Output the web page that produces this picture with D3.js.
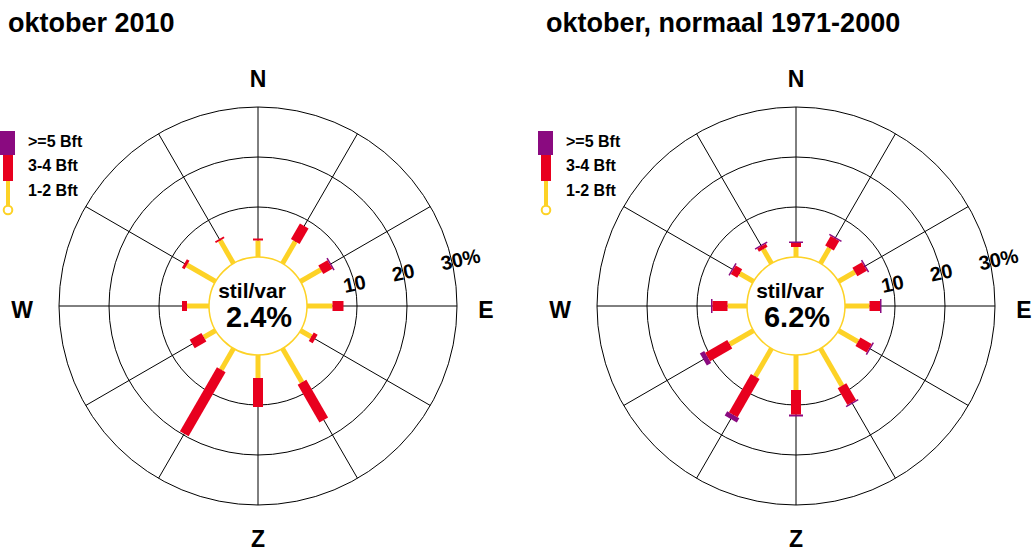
<!DOCTYPE html>
<html>
<head>
<meta charset="utf-8">
<script src="https://cdn.jsdelivr.net/npm/d3@7"></script>
<style>
  html, body { margin: 0; padding: 0; background: #fff; }
  svg text { font-family: "Liberation Sans", Arial, Helvetica, sans-serif; font-weight: bold; }
</style>
</head>
<body>
<svg id="chart" width="1033" height="551"></svg>
<script>
"use strict";

// richtingen, elke 30 graden vanaf noord
var directions = ["N", "NNO", "ONO", "O", "OZO", "ZZO", "Z", "ZZW", "WZW", "W", "WNW", "NNW"];
var compass = [["N", 0, 229], ["E", 90, 228], ["Z", 180, 231], ["W", 270, 236]];
var rings = [10, 20, 30];
var legendLabels = [">=5 Bft", "3-4 Bft", "1-2 Bft"];

// oktober 2010 (% per richting)
var okt2010_12 = [3.3, 5.1, 4.7, 5.1, 2.5, 7.8, 4.6, 4.9, 2.7, 4.4, 6.6, 5.3];
var okt2010_34 = [0.4, 3.6, 2.1, 2.2, 0.9, 8.7, 5.8, 14.8, 2.7, 1.0, 0.6, 0.4];
var okt2010_5  = [0, 0, 0.2, 0, 0, 0, 0, 0, 0, 0, 0, 0];
var okt2010_stil = "2.4%";

// oktober, normaal 1971-2000
var norm_12 = [2.0, 3.6, 3.8, 4.9, 4.5, 8.6, 7.0, 6.5, 5.5, 3.9, 3.2, 3.3];
var norm_34 = [0.8, 2.2, 2.2, 2.1, 2.6, 3.9, 4.9, 8.8, 5.1, 3.0, 1.5, 0.7];
var norm_5  = [0.3, 0.3, 0.3, 0.3, 0.3, 0.3, 0.4, 1.0, 1.0, 0.3, 0.3, 0.3];
var norm_stil = "6.2%";

var colors = { b5: "#8a0a80", b34: "#e8001e", b12: "#fdd226" };

var svg = d3.select("#chart");
var r = d3.scaleLinear().domain([0, 30]).range([49, 199]);
var angle = d3.scalePoint().domain(directions).range([0, 330]);

var pt = (deg, rad) => {
    var a = deg * Math.PI / 180;
    return [rad * Math.sin(a), -rad * Math.cos(a)];
};

var drawRose = (g, title, v12, v34, v5, stil) => {
    g.append("text").attr("x", 8).attr("y", 32).attr("font-size", 27).text(title);

    // legenda
    var lg = g.append("g");
    lg.append("rect").attr("x", 0).attr("y", 131).attr("width", 15).attr("height", 24).attr("fill", colors.b5);
    lg.append("rect").attr("x", 3).attr("y", 155).attr("width", 10).attr("height", 26).attr("fill", colors.b34);
    lg.append("line").attr("x1", 8).attr("x2", 8).attr("y1", 181).attr("y2", 206)
        .attr("stroke", colors.b12).attr("stroke-width", 4);
    lg.append("circle").attr("cx", 8).attr("cy", 210).attr("r", 4.3)
        .attr("fill", "#fff").attr("stroke", colors.b12).attr("stroke-width", 2);
    lg.selectAll("text.leg").data(legendLabels).enter().append("text")
        .attr("class", "leg").attr("x", 28).attr("y", (d, i) => 147 + i * 24.3)
        .attr("font-size", 16).text(d => d);

    var c = g.append("g").attr("transform", "translate(258,306)");

    c.selectAll("circle.ring").data(rings).enter().append("circle")
        .attr("class", "ring").attr("r", d => r(d))
        .attr("fill", "none").attr("stroke", "#000").attr("stroke-width", 1);

    c.selectAll("line.spoke").data(directions).enter().append("line")
        .attr("class", "spoke")
        .attr("x1", d => pt(angle(d), r(0))[0]).attr("y1", d => pt(angle(d), r(0))[1])
        .attr("x2", d => pt(angle(d), r(30))[0]).attr("y2", d => pt(angle(d), r(30))[1])
        .attr("stroke", "#000").attr("stroke-width", 1);

    var rows = directions.map((d, i) => ({
        dir: d, a: v12[i], b: v12[i] + v34[i], c: v12[i] + v34[i] + v5[i], p: v5[i]
    }));

    var bar = (cls, from, to, w, col) => {
        c.selectAll("line." + cls).data(rows.filter(d => to(d) > from(d))).enter().append("line")
            .attr("class", cls)
            .attr("x1", d => pt(angle(d.dir), r(from(d)))[0])
            .attr("y1", d => pt(angle(d.dir), r(from(d)))[1])
            .attr("x2", d => pt(angle(d.dir), Math.max(r(to(d)), r(from(d)) + 1.5))[0])
            .attr("y2", d => pt(angle(d.dir), Math.max(r(to(d)), r(from(d)) + 1.5))[1])
            .attr("stroke", col).attr("stroke-width", w);
    };
    bar("b12", d => 0, d => d.a, 5, colors.b12);
    bar("b5", d => d.b, d => d.c, 14, colors.b5);
    bar("b34", d => d.a, d => d.b, 10, colors.b34);

    c.append("circle").attr("r", r(0)).attr("fill", "#fff")
        .attr("stroke", colors.b12).attr("stroke-width", 1.5);
    c.append("text").attr("x", -6).attr("y", -8).attr("text-anchor", "middle")
        .attr("font-size", 21).text("stil/var");
    c.append("text").attr("x", 1).attr("y", 21).attr("text-anchor", "middle")
        .attr("font-size", 29).text(stil);

    // schaal labels
    var tl = c.selectAll("g.tick").data(rings).enter().append("g").attr("class", "tick")
        .attr("transform", d => {
            var p = pt(77, r(d));
            return "translate(" + p[0] + "," + p[1] + ") rotate(-12)";
        });
    tl.append("text").attr("text-anchor", "middle").attr("y", 7).attr("font-size", 20).text(d => d);
    tl.filter(d => d === 30).append("text").attr("x", 11).attr("y", 7).attr("font-size", 20).text("%");

    c.selectAll("text.cmp").data(compass).enter().append("text")
        .attr("class", "cmp").attr("text-anchor", "middle").attr("dominant-baseline", "central")
        .attr("x", d => pt(d[1], d[2])[0])
        .attr("y", d => pt(d[1], d[2])[1] + (d[1] % 180 ? 4 : 2))
        .attr("font-size", 23).text(d => d[0]);
};

drawRose(svg.append("g"), "oktober 2010", okt2010_12, okt2010_34, okt2010_5, okt2010_stil);
drawRose(svg.append("g").attr("transform", "translate(538,0)"), "oktober, normaal 1971-2000",
    norm_12, norm_34, norm_5, norm_stil);
</script>
</body>
</html>
